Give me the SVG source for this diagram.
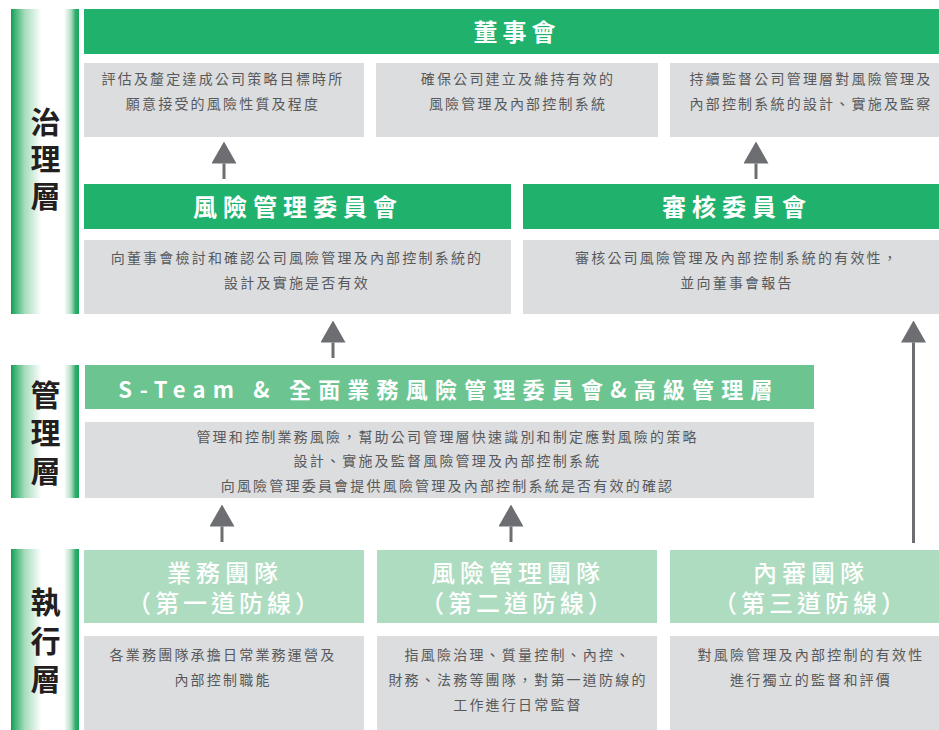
<svg xmlns="http://www.w3.org/2000/svg" width="939" height="730" viewBox="0 0 939 730">
<defs>
<linearGradient id="barGrad" x1="0" y1="0" x2="1" y2="0">
<stop offset="0" stop-color="#129a55"/>
<stop offset="0.06" stop-color="#3db474"/>
<stop offset="0.2" stop-color="#a6dbbb"/>
<stop offset="0.45" stop-color="#ffffff"/>
<stop offset="0.78" stop-color="#ffffff"/>
<stop offset="0.88" stop-color="#b5dfc5"/>
<stop offset="0.95" stop-color="#2aae69"/>
<stop offset="1" stop-color="#1ba561"/>
</linearGradient>
<marker id="ah" viewBox="0 0 22 25" refX="0" refY="12.5" markerWidth="22" markerHeight="25" markerUnits="userSpaceOnUse" orient="auto">
<path d="M0,0 L22,12.5 L0,25 Z" fill="#6d6e71"/>
</marker>
</defs>
<style>
.bar{fill:url(#barGrad)}
.lbl{font-family:"Noto Sans CJK TC","Noto Sans CJK SC",sans-serif;font-size:30px;font-weight:bold;fill:#231f20;text-anchor:middle}
.hd{fill:#20b26d}
.hd2{fill:#6cc591}
.hd3{fill:#aedcc0}
.box{fill:#dcdddf}
.ht{font-family:"Noto Sans CJK TC","Noto Sans CJK SC",sans-serif;font-size:24px;font-weight:bold;fill:#ffffff;text-anchor:middle}
.bt{font-family:"Noto Sans CJK TC","Noto Sans CJK SC",sans-serif;font-size:14px;fill:#58595b;text-anchor:middle;letter-spacing:2.2px}
.conn line{stroke:#6d6e71;stroke-width:3;marker-end:url(#ah)}
</style>

<g id="layer-governance">
<rect class="bar" x="11" y="9" width="68" height="305"/>
<text class="lbl"><tspan x="45.5" y="133">治</tspan><tspan x="45.5" y="170">理</tspan><tspan x="45.5" y="207">層</tspan></text>
</g>
<g id="layer-management">
<rect class="bar" x="11" y="365" width="68" height="133"/>
<text class="lbl"><tspan x="45.5" y="406">管</tspan><tspan x="45.5" y="444">理</tspan><tspan x="45.5" y="482">層</tspan></text>
</g>
<g id="layer-execution">
<rect class="bar" x="11" y="549" width="68" height="181"/>
<text class="lbl"><tspan x="45.5" y="613">執</tspan><tspan x="45.5" y="652">行</tspan><tspan x="45.5" y="690">層</tspan></text>
</g>

<g id="board">
<rect class="hd" x="84" y="9" width="855" height="45"/>
<text class="ht" x="517" y="41" style="letter-spacing:5px">董事會</text>
</g>
<g id="board-duty-1">
<rect class="box" x="84" y="63" width="280" height="74"/>
<text class="bt"><tspan x="223" y="84">評估及釐定達成公司策略目標時所</tspan><tspan x="223" y="109">願意接受的風險性質及程度</tspan></text>
</g>
<g id="board-duty-2">
<rect class="box" x="376" y="63" width="282" height="74"/>
<text class="bt"><tspan x="518" y="84">確保公司建立及維持有效的</tspan><tspan x="518" y="109">風險管理及內部控制系統</tspan></text>
</g>
<g id="board-duty-3">
<rect class="box" x="670" y="63" width="269" height="74"/>
<text class="bt"><tspan x="811" y="84">持續監督公司管理層對風險管理及</tspan><tspan x="811" y="109">內部控制系統的設計、實施及監察</tspan></text>
</g>

<g id="risk-committee">
<rect class="hd" x="84" y="184" width="427" height="45"/>
<text class="ht" x="298" y="216" style="letter-spacing:6px">風險管理委員會</text>
</g>
<g id="risk-committee-duty">
<rect class="box" x="84" y="240" width="427" height="74"/>
<text class="bt"><tspan x="297" y="263">向董事會檢討和確認公司風險管理及內部控制系統的</tspan><tspan x="297" y="288">設計及實施是否有效</tspan></text>
</g>
<g id="audit-committee">
<rect class="hd" x="523" y="184" width="416" height="45"/>
<text class="ht" x="737" y="216" style="letter-spacing:6px">審核委員會</text>
</g>
<g id="audit-committee-duty">
<rect class="box" x="523" y="240" width="416" height="74"/>
<text class="bt"><tspan x="737" y="263">審核公司風險管理及內部控制系統的有效性，</tspan><tspan x="737" y="288">並向董事會報告</tspan></text>
</g>

<g id="steam">
<rect class="hd2" x="85" y="365" width="729" height="44"/>
<text class="ht" x="449" y="398" style="font-size:22px;letter-spacing:7.2px">S-Team &amp; 全面業務風險管理委員會&amp;高級管理層</text>
</g>
<g id="steam-duty">
<rect class="box" x="85" y="422" width="729" height="76"/>
<text class="bt"><tspan x="447.5" y="442">管理和控制業務風險，幫助公司管理層快速識別和制定應對風險的策略</tspan><tspan x="447.5" y="466">設計、實施及監督風險管理及內部控制系統</tspan><tspan x="447.5" y="491">向風險管理委員會提供風險管理及內部控制系統是否有效的確認</tspan></text>
</g>

<g id="business-team">
<rect class="hd3" x="84" y="550" width="280" height="73"/>
<text class="ht" style="font-weight:500"><tspan x="225" y="582" style="letter-spacing:5px">業務團隊</tspan><tspan x="225" y="612" style="letter-spacing:4px">（第一道防線）</tspan></text>
</g>
<g id="business-team-duty">
<rect class="box" x="84" y="636" width="280" height="94"/>
<text class="bt"><tspan x="223" y="660">各業務團隊承擔日常業務運營及</tspan><tspan x="223" y="685">內部控制職能</tspan></text>
</g>
<g id="risk-team">
<rect class="hd3" x="377" y="550" width="280" height="73"/>
<text class="ht" style="font-weight:500"><tspan x="518" y="582" style="letter-spacing:5px">風險管理團隊</tspan><tspan x="518" y="612" style="letter-spacing:4px">（第二道防線）</tspan></text>
</g>
<g id="risk-team-duty">
<rect class="box" x="377" y="636" width="280" height="94"/>
<text class="bt"><tspan x="518" y="660">指風險治理、質量控制、內控、</tspan><tspan x="518" y="685">財務、法務等團隊，對第一道防線的</tspan><tspan x="518" y="710">工作進行日常監督</tspan></text>
</g>
<g id="audit-team">
<rect class="hd3" x="670" y="550" width="269" height="73"/>
<text class="ht" style="font-weight:500"><tspan x="811" y="582" style="letter-spacing:5px">內審團隊</tspan><tspan x="811" y="612" style="letter-spacing:4px">（第三道防線）</tspan></text>
</g>
<g id="audit-team-duty">
<rect class="box" x="670" y="636" width="269" height="94"/>
<text class="bt"><tspan x="811" y="660">對風險管理及內部控制的有效性</tspan><tspan x="811" y="685">進行獨立的監督和評價</tspan></text>
</g>

<g id="connectors" class="conn">
<line x1="224" y1="179" x2="224" y2="163.5"/>
<line x1="756" y1="179" x2="756" y2="163.5"/>
<line x1="333" y1="358" x2="333" y2="342.5"/>
<line x1="913.5" y1="543" x2="913.5" y2="342.5"/>
<line x1="222" y1="542" x2="222" y2="526.5"/>
<line x1="511" y1="542" x2="511" y2="526.5"/>
</g>
</svg>
